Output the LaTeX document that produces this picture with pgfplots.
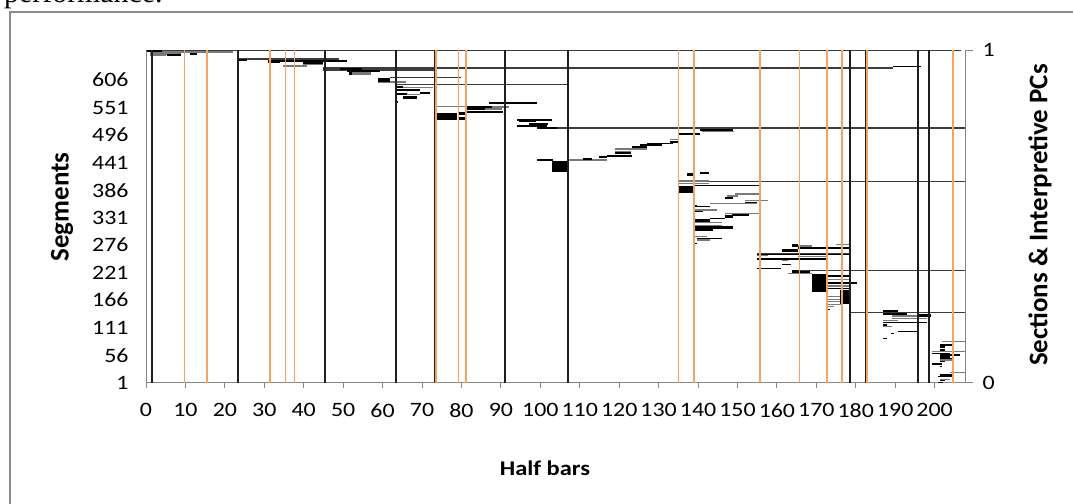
\documentclass[border=0pt]{standalone}
\usepackage{pgfplots}
\pgfplotsset{compat=1.18}
\usepackage{pgfplotstable}
\usepackage{fontspec}
\setmainfont{Carlito}[FakeStretch=1.17]
\newfontfamily\plaincal{Carlito}
\newfontfamily\docserif{Liberation Serif}
\definecolor{axgray}{HTML}{868686}
\definecolor{framegray}{HTML}{8C8C8C}
\definecolor{pcorange}{HTML}{F5A263}
\definecolor{longgray}{HTML}{3C3C3C}
\definecolor{seggray}{HTML}{7A7A7A}

\pgfplotstableread{
a b y
0.0 206.8 665
44.8 189.4 630.4
23.4 49.0 648
63.2 106.7 597
99.1 207.7 510
135.0 207.7 403
154.9 178.5 258.4
163.8 207.7 225.1
178.5 207.7 141.1
44.8 73.8 625.8
61.9 80.0 611
}\longlines

\pgfplotstableread{
a b y
0.2 4.0 664.4
0.2 4.0 663.4
11.2 12.9 659.5
11.2 12.9 658.5
5.4 9.0 655.7
23.4 25.7 647
23.4 25.7 646
31.0 50.9 643.8
31.0 34.0 642
31.0 34.0 641
39.9 45.0 640
189.4 196.5 633
49.2 54.7 629
49.2 54.7 628
50.9 59.3 623.6
51.4 52.3 621
51.4 52.3 619
51.4 52.3 617
58.9 61.9 608
58.9 61.9 607
58.9 61.9 605
58.9 61.9 604
63.7 65.3 592
63.7 69.6 586.4
69.5 72.0 579.8
63.7 66.2 578
65.1 68.7 573
65.1 68.7 571.5
65.1 68.7 570
63.3 63.8 561.8
87.1 99.1 559.8
81.2 87.7 552.5
81.2 87.7 551.5
81.2 86.0 548
81.2 90.6 542.4
73.3 78.8 538
73.3 78.8 536
73.3 78.8 534
73.3 78.8 532
73.3 78.8 530
73.3 78.8 528
79.0 80.9 540
79.0 80.9 538
79.0 80.9 530
79.0 80.9 528
94.0 102.9 526.4
94.6 98.9 524.5
94.6 98.9 523.5
97.0 102.0 518.4
94.0 101.8 514.4
94.0 96.0 513.4
99.1 104.2 510.5
99.1 103.3 445.8
103.0 106.7 443
103.0 106.7 441
103.0 106.7 439
103.0 106.7 437
103.0 106.7 435
103.0 106.7 433
103.0 106.7 431
103.0 106.7 429
103.0 106.7 427
103.0 106.7 425
103.0 106.7 423
110.9 113.0 447.8
114.9 116.8 451.8
116.8 123.2 454.4
118.9 122.9 459.8
118.9 122.9 458.8
123.2 127.0 473
123.2 127.0 472
125.3 130.8 476
127.0 133.7 479
132.9 135.0 483
132.9 135.0 482
135.0 140.5 497.8
140.5 148.9 506
137.1 138.8 418.5
137.1 138.8 416.5
140.5 142.9 419.7
137.1 138.8 415
138.8 155.7 395.1
135.0 138.8 393
135.0 138.8 391
135.0 138.8 389
135.0 138.8 387
135.0 138.8 385
135.0 138.8 383
135.0 138.8 381
146.8 148.9 370.5
146.8 148.9 369
151.9 154.9 361.7
138.8 139.7 354
138.8 143.0 353
138.8 141.3 343.1
148.5 152.8 336.4
146.8 148.9 334
146.8 148.9 332.5
143.0 146.8 329.1
138.8 143.0 326
138.8 143.0 324.5
138.8 143.0 323
138.8 148.9 312
138.8 148.9 310.5
138.8 143.8 306.4
139.7 146.0 289.7
138.8 139.7 279.7
163.8 165.4 276
163.8 165.4 274.5
163.8 165.4 273
165.4 178.5 270.4
161.2 165.4 266.5
161.2 165.4 265
161.2 165.4 263.5
154.9 178.5 257.4
154.9 173.0 248.4
161.2 163.6 237.7
154.9 161.0 229.7
163.8 165.4 224
163.8 168.4 222.5
163.8 168.4 221
168.8 172.6 216
168.8 172.6 214
168.8 172.6 212
168.8 172.6 210
168.8 172.6 208
168.8 172.6 206
168.8 172.6 204
168.8 172.6 202
168.8 172.6 200
168.8 172.6 198
168.8 172.6 196
168.8 172.6 194
168.8 172.6 192
168.8 172.6 190
168.8 172.6 188
168.8 172.6 186
168.8 172.6 184
172.6 178.5 214.4
172.6 180.2 200.4
172.6 178.5 189.1
176.0 178.5 185
176.0 178.5 183
176.0 178.5 181
176.0 178.5 179
176.0 178.5 177
176.0 178.5 175
176.0 178.5 173
176.0 178.5 171
176.0 178.5 169
176.0 178.5 167
176.0 178.5 165
176.0 178.5 163
176.0 178.5 161
176.0 178.5 159
173.0 173.5 147.7
187.0 190.8 144.4
187.0 192.9 138.4
195.5 199.0 137.5
195.5 199.0 136
195.5 199.0 134.5
187.0 198.0 121.1
187.0 188.0 116.4
190.8 195.5 103.1
188.9 189.8 99.7
187.0 187.8 89.7
201.4 204.7 76.4
201.4 202.6 74
201.4 202.6 72.5
201.4 202.6 66.4
199.3 203.9 59.7
201.4 206.4 56.4
201.4 203.9 54.5
201.4 203.9 53
201.4 203.9 51.5
201.4 204.7 49.7
201.4 202.6 43.1
199.3 201.8 38.4
201.4 201.8 33.1
201.4 204.7 17.5
201.4 204.7 16
200.9 204.7 13.1
201.4 202.6 5.1
200.9 202.2 1.1
}\blacksegs

\pgfplotstableread{
a b y
1.0 22.0 661.8
9.0 15.8 660.5
1.0 9.0 658
1.0 5.1 655
39.9 44.8 637.6
34.8 40.8 634
52.3 57.0 620
52.3 57.0 617
58.9 66.0 602
64.4 72.8 591.8
66.2 69.6 577
73.3 87.7 553
87.7 92.0 552
86.0 90.3 548
106.7 116.8 446
118.9 122.9 462
118.9 127.0 468.4
132.9 135.0 487
141.0 149.0 503
135.0 142.9 404.4
135.0 142.9 399.7
149.4 155.7 378.4
147.3 150.2 374.4
151.9 157.8 365.1
143.0 154.9 359.1
138.8 144.7 346.4
146.8 155.7 339.7
138.8 146.0 321.1
138.8 146.0 315.7
138.8 142.2 293.1
139.7 143.0 286.4
165.4 168.8 274.4
175.0 178.5 277.7
154.9 157.8 256
165.4 172.6 253.1
161.2 162.9 245.1
162.9 168.8 219.7
172.6 178.5 207.7
172.6 178.5 194.4
173.0 176.4 173
173.0 176.4 167.7
173.0 176.4 163
173.0 176.4 157.7
173.0 174.5 153
189.1 195.5 134.4
189.1 198.0 129.7
187.0 190.8 125.1
187.0 189.1 113.1
201.8 207.7 83.1
199.3 207.7 63.1
201.4 204.7 46.4
203.9 207.7 21.1
201.4 203.9 7.7
}\graysegs

\begin{document}
\begin{tikzpicture}[x=1bp,y=1bp]
\useasboundingbox (0,0) rectangle (1073,504);
\fill[white] (0,0) rectangle (1073,504);
\node[anchor=base west, inner sep=0, font=\docserif\fontsize{30}{30}\selectfont] at (4,501) {performance.};
\draw[framegray, line width=1.3bp] (10,-20) -- (10,492) -- (1100,492);

\begin{axis}[
  at={(146bp,121.3bp)}, anchor=south west,
  scale only axis, width=819bp, height=332.4bp,
  xmin=0, xmax=207.7, ymin=1, ymax=665.5,
  axis x line*=bottom, axis y line*=left,
  axis line style={axgray, line width=1bp, -},
  xtick={0,10,...,200}, ytick={1,56,...,606},
  tick align=outside, major tick length=5bp,
  x tick style={axgray, line width=1bp},
  y tick style={draw=none},
  /pgf/number format/assume math mode=true,
  tick label style={font=\fontsize{20.5}{20.5}\selectfont},
  xticklabel style={yshift=-12bp},
  yticklabel style={xshift=-9bp},
  clip=false,
  segs/.style={draw=none, mark=none, forget plot, error bars/.cd, x dir=both, x explicit, error mark=none},
]
\addplot[segs, error bar style={draw=longgray, line width=1.4bp}]
  table[x expr={(\thisrow{a}+\thisrow{b})/2}, y=y, x error expr={(\thisrow{b}-\thisrow{a})/2}] {\longlines};
\addplot[segs, error bar style={draw=seggray, line width=1.3bp}]
  table[x expr={(\thisrow{a}+\thisrow{b})/2}, y=y, x error expr={(\thisrow{b}-\thisrow{a})/2}] {\graysegs};
\addplot[segs, error bar style={draw=black, line width=1.5bp}]
  table[x expr={(\thisrow{a}+\thisrow{b})/2}, y=y, x error expr={(\thisrow{b}-\thisrow{a})/2}] {\blacksegs};
\end{axis}

\begin{axis}[
  at={(146bp,121.3bp)}, anchor=south west,
  scale only axis, width=819bp, height=332.4bp,
  xmin=0, xmax=207.7, ymin=0, ymax=1,
  axis x line=none, axis y line*=right,
  axis line style={axgray, line width=1bp, -},
  ytick={0,1}, tick align=outside, major tick length=8bp,
  y tick style={axgray, line width=1bp},
  /pgf/number format/assume math mode=true,
  yticklabel style={font=\fontsize{20.5}{20.5}\selectfont, xshift=6bp},
  clip=false,
]
\addplot[ycomb, black!88, line width=2bp, mark=none] coordinates {
(1.6,1) (23.4,1) (45.5,1) (63.4,1) (73.2,1) (91.0,1) (107.0,1) (178.6,1) (182.5,1) (195.7,1) (198.5,1)};
\addplot[ycomb, pcorange, line width=1.5bp, mark=none] coordinates {
(9.7,1) (15.5,1) (31.5,1) (35.4,1) (37.6,1) (73.5,1) (79.2,1) (81.1,1) (135.1,1) (139.0,1) (155.7,1) (165.7,1) (172.7,1) (176.5,1) (182.8,1) (204.6,1)};
\end{axis}

\node[font=\bfseries\fontsize{21}{21}\selectfont] at (545,36) {Half bars};
\node[rotate=90, font=\plaincal\bfseries\fontsize{27}{27}\selectfont] at (62,297) {Segments};
\node[rotate=90, font=\plaincal\bfseries\fontsize{27}{27}\selectfont] at (1040,289) {Sections \& Interpretive PCs};
\end{tikzpicture}
\end{document}
